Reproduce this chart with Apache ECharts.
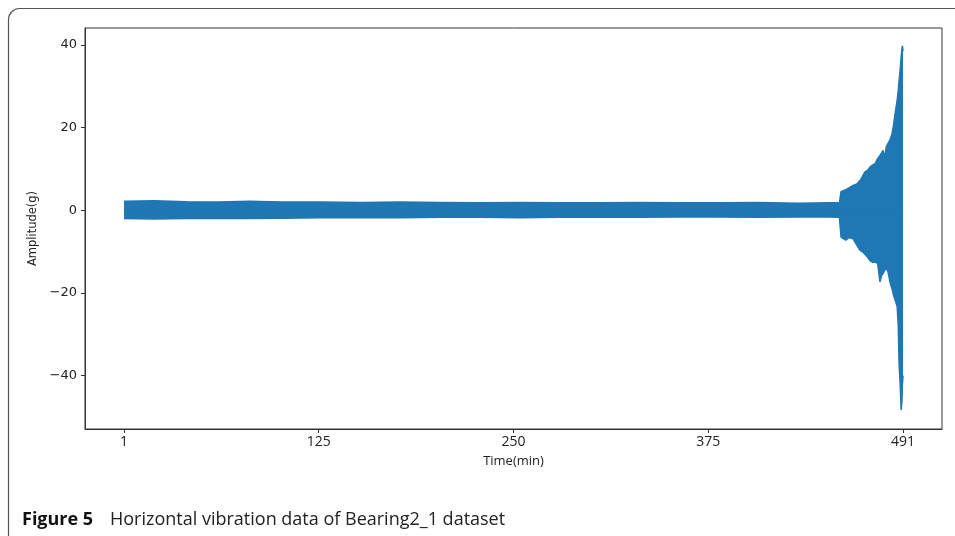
<!DOCTYPE html>
<html>
<head>
<meta charset="utf-8">
<script src="https://cdn.jsdelivr.net/npm/echarts@6/dist/echarts.min.js"></script>
<style>
html,body{margin:0;padding:0;background:#fff;}
#chart{width:955px;height:536px;}
</style>
</head>
<body>
<div id="chart"></div>
<script>
// Envelope of the horizontal vibration signal
var timeMin = [1, 20, 40, 60, 80, 100, 125, 150, 175, 200, 225, 250, 275, 300, 325, 350, 375, 400, 425, 445, 451,
  452, 453, 455, 457, 459.6, 462, 464, 466, 467.1, 469, 470.3, 472, 473.4, 475, 476.5, 477.5, 478.4, 479.5, 480.5,
  481.6, 483, 484.1, 485, 486, 487.3, 488, 488.5, 489.2, 489.8, 490.3, 490.6, 491];
var upperG = [2.2, 2.3, 2.1, 2.0, 2.2, 2.0, 2.0, 1.9, 2.0, 1.9, 1.8, 1.9, 1.8, 1.8, 1.9, 1.8, 1.8, 1.9, 1.7, 1.8, 1.8,
  4.5, 4.8, 5.0, 5.4, 6.0, 6.4, 7.2, 8.6, 9.3, 9.8, 10.5, 11.0, 11.3, 12.5, 13.3, 13.9, 14.5, 12.8, 15.4,
  16.2, 17.2, 18.6, 20.5, 23.4, 26.6, 29.0, 31.4, 34.0, 37.0, 39.0, 39.8, 38.5];
var lowerG = [-2.0, -2.1, -2.0, -1.9, -2.0, -1.9, -1.8, -1.8, -1.8, -1.7, -1.7, -1.8, -1.7, -1.6, -1.7, -1.6, -1.6, -1.7, -1.6, -1.6, -1.7,
  -6.5, -6.8, -7.2, -6.6, -6.9, -8.5, -9.7, -10.2, -10.5, -11.5, -12.2, -12.6, -12.5, -12.8, -17.3, -15.8, -15.3, -14.5, -14.0,
  -15.0, -17.7, -19.0, -20.5, -21.7, -23.3, -28.0, -37.0, -42.0, -48.3, -46.0, -42.0, -40.0];
var xTickPos = [1, 123.5, 246, 368.5, 491];
var xTickLabels = ['1', '125', '250', '375', '491'];
var yTicks = [-40, -20, 0, 20, 40];

var upperData = timeMin.map(function (t, i) { return [t, upperG[i]]; });
var lowerData = timeMin.map(function (t, i) { return [t, lowerG[i]]; });
var zeroData = [[timeMin[0], 0], [timeMin[timeMin.length - 1], 0]];

var blue = '#1f77b4';
var axisCol = '#333333';
var chart = echarts.init(document.getElementById('chart'), null, {renderer: 'canvas'});
chart.setOption({
  animation: false,
  backgroundColor: '#ffffff',
  graphic: [
    {type: 'rect', shape: {x: 8.5, y: 8.5, width: 980, height: 600, r: 11},
     style: {fill: 'none', stroke: '#555', lineWidth: 1.2}, z: 0},
    {type: 'text', left: 22, top: 511,
     style: {text: 'Figure 5', font: 'bold 18px "Open Sans", "Noto Sans", sans-serif', fill: '#111'}},
    {type: 'text', left: 110, top: 511,
     style: {text: 'Horizontal vibration data of Bearing2_1 dataset', font: '18px "Open Sans", "Noto Sans", sans-serif', fill: '#222'}}
  ],
  grid: {left: 85, top: 28, right: 13, bottom: 107, show: true, borderColor: axisCol, borderWidth: 1, backgroundColor: 'transparent'},
  xAxis: {
    type: 'value', min: -23.5, max: 515.5,
    name: 'Time(min)', nameLocation: 'middle', nameGap: 26,
    nameTextStyle: {fontFamily: 'Open Sans', fontSize: 13, color: '#222'},
    axisLine: {show: true, onZero: false, lineStyle: {color: axisCol, width: 1}},
    axisTick: {show: true, inside: false, length: 4, customValues: xTickPos, lineStyle: {color: axisCol}},
    axisLabel: {show: true, customValues: xTickPos, margin: 6, fontFamily: 'Open Sans', fontSize: 14, color: '#222',
      formatter: function (v) { var i = xTickPos.indexOf(v); return i >= 0 ? xTickLabels[i] : ''; }},
    splitLine: {show: false}
  },
  yAxis: {
    type: 'value', min: -52.9, max: 44.1,
    name: 'Amplitude(g)', nameLocation: 'middle', nameGap: 42, nameRotate: 90,
    nameTextStyle: {fontFamily: 'DejaVu Sans', fontSize: 11.5, color: '#222'},
    axisLine: {show: true, onZero: false, lineStyle: {color: axisCol, width: 1}},
    axisTick: {show: true, inside: false, length: 4, customValues: yTicks, lineStyle: {color: axisCol}},
    axisLabel: {show: true, customValues: yTicks, margin: 8, fontFamily: 'DejaVu Sans', fontSize: 13, color: '#222',
      formatter: function (v) { return v < 0 ? '\u2212' + Math.abs(v) : String(v); }},
    splitLine: {show: false}
  },
  series: [
    {type: 'line', data: upperData, showSymbol: false, symbol: 'none', lineStyle: {color: blue, width: 1.5},
     areaStyle: {color: blue, opacity: 1, origin: 0}, z: 2},
    {type: 'line', data: lowerData, showSymbol: false, symbol: 'none', lineStyle: {color: blue, width: 1.5},
     areaStyle: {color: blue, opacity: 1, origin: 0}, z: 2},
    {type: 'line', data: zeroData, showSymbol: false, symbol: 'none', lineStyle: {color: blue, width: 3}, z: 3}
  ]
});
</script>
</body>
</html>
